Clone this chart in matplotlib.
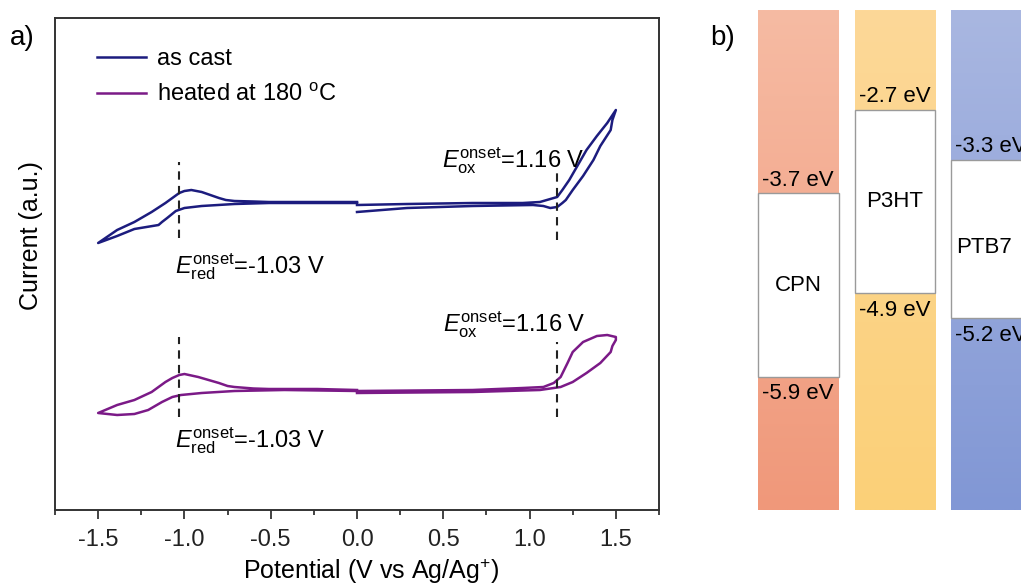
import matplotlib
matplotlib.use("Agg")
import matplotlib.pyplot as plt
import numpy as np
from matplotlib.patches import Rectangle
from matplotlib.colors import to_rgb

plt.rcParams["font.family"] = ["Liberation Sans", "DejaVu Sans"]
plt.rcParams["mathtext.fontset"] = "custom"
plt.rcParams["mathtext.rm"] = "Liberation Sans"
plt.rcParams["mathtext.it"] = "Liberation Sans:italic"

# ---- a) cyclic voltammetry (current in a.u.)
cast_neg_v = [0.00, -0.23, -0.51, -0.60, -0.71, -0.76, -0.80, -0.85, -0.90, -0.96, -1.00, -1.03, -1.07,
              -1.11, -1.19, -1.29, -1.39, -1.50,
              -1.39, -1.29, -1.22, -1.15, -1.13, -1.10, -1.05, -1.00, -0.90, -0.71, -0.51, -0.23, 0.00]
cast_neg_i = [3.01, 3.01, 3.01, 3.015, 3.02, 3.03, 3.05, 3.08, 3.11, 3.13, 3.12, 3.10, 3.05,
              3.00, 2.91, 2.81, 2.73, 2.60,
              2.67, 2.74, 2.76, 2.78, 2.81, 2.85, 2.92, 2.95, 2.97, 2.99, 3.00, 3.00, 3.00]
cast_pos_v = [0.00, 0.29, 0.67, 0.96, 1.06, 1.12, 1.16, 1.19, 1.23, 1.28, 1.33, 1.39, 1.45, 1.50,
              1.48, 1.47, 1.41, 1.37, 1.31, 1.25, 1.21, 1.19, 1.16, 1.12, 1.08, 1.02, 0.67, 0.29, 0.00]
cast_pos_i = [2.98, 2.99, 3.00, 3.00, 3.01, 3.04, 3.06, 3.13, 3.23, 3.38, 3.53, 3.67, 3.80, 3.93,
              3.83, 3.73, 3.57, 3.43, 3.27, 3.13, 3.03, 3.00, 2.96, 2.95, 2.97, 2.98, 2.97, 2.95, 2.91]

heat_neg_v = [0.00, -0.23, -0.51, -0.60, -0.71, -0.75, -0.80, -0.86, -0.92, -1.00, -1.03, -1.07,
              -1.11, -1.19, -1.29, -1.39, -1.50,
              -1.39, -1.29, -1.21, -1.13, -1.07, -1.02, -0.90, -0.71, -0.42, 0.00]
heat_neg_i = [1.13, 1.14, 1.14, 1.145, 1.16, 1.17, 1.20, 1.23, 1.26, 1.29, 1.28, 1.25,
              1.21, 1.11, 1.03, 0.98, 0.90,
              0.88, 0.89, 0.93, 1.01, 1.06, 1.08, 1.10, 1.12, 1.13, 1.12]
heat_pos_v = [0.00, 0.67, 0.96, 1.08, 1.14, 1.18, 1.22, 1.25, 1.31, 1.39, 1.45, 1.50, 1.50,
              1.48, 1.47, 1.41, 1.33, 1.25, 1.18, 1.06, 0.67, 0.00]
heat_pos_i = [1.12, 1.13, 1.15, 1.16, 1.20, 1.26, 1.40, 1.51, 1.61, 1.67, 1.68, 1.66, 1.63,
              1.57, 1.51, 1.40, 1.30, 1.21, 1.16, 1.13, 1.11, 1.10]

onset_red = -1.03
onset_ox = 1.16
cast_dash_red = (2.65, 3.41)
cast_dash_ox = (2.63, 3.35)
heat_dash_red = (0.86, 1.66)
heat_dash_ox = (0.86, 1.61)

xticks = [-1.5, -1.0, -0.5, 0.0, 0.5, 1.0, 1.5]

# ---- b) energy levels (eV)
materials = ["CPN", "P3HT", "PTB7"]
lumo = [-3.7, -2.7, -3.3]
homo = [-5.9, -4.9, -5.2]
top_colors = ["#f6bba3", "#fdd898", "#a9b7e1"]
bottom_colors = ["#f0987a", "#fbd078", "#8197d5"]

col_cast = "#1c1c7e"
col_heat = "#7b1a87"

fig = plt.figure(figsize=(10.21, 5.87), dpi=100)

# panel a
ax = fig.add_axes([55 / 1021, 77 / 587, 604 / 1021, 492 / 587])
ax.plot(cast_neg_v, cast_neg_i, color=col_cast, lw=1.8, label="as cast")
ax.plot(cast_pos_v, cast_pos_i, color=col_cast, lw=1.8)
ax.plot(heat_neg_v, heat_neg_i, color=col_heat, lw=1.8, label="heated at 180 $^{\\mathrm{o}}$C")
ax.plot(heat_pos_v, heat_pos_i, color=col_heat, lw=1.8)

for x, (y0, y1) in [(onset_red, cast_dash_red), (onset_ox, cast_dash_ox),
                    (onset_red, heat_dash_red), (onset_ox, heat_dash_ox)]:
    ax.plot([x, x], [y0, y1], color="#222222", lw=1.5, ls=(0, (4, 3)))

ox_txt = "$\\mathit{E}_{\\mathrm{ox}}^{\\mathrm{onset}}$=%.2f V" % onset_ox
red_txt = "$\\mathit{E}_{\\mathrm{red}}^{\\mathrm{onset}}$=%.2f V" % onset_red
ax.text(0.49, 3.36, ox_txt, fontsize=17, va="baseline")
ax.text(-1.055, 2.30, red_txt, fontsize=17, va="baseline")
ax.text(0.50, 1.71, ox_txt, fontsize=17, va="baseline")
ax.text(-1.055, 0.55, red_txt, fontsize=17, va="baseline")

ax.set_xlim(-1.75, 1.75)
ax.set_ylim(-0.07, 4.85)
ax.set_xticks(xticks)
ax.set_xticks(np.arange(-1.75, 1.76, 0.25), minor=True)
ax.set_xticklabels(["%.1f" % v for v in xticks])
ax.set_yticks([])
ax.tick_params(axis="x", which="major", direction="out", length=6.5, width=1.2,
               labelsize=17, pad=7.5, colors="#222222")
ax.tick_params(axis="x", which="minor", direction="out", length=3.8, width=1.2, colors="#222222")
for s in ax.spines.values():
    s.set_linewidth(1.4)
    s.set_color("#333333")

ax.legend(loc="upper left", bbox_to_anchor=(0.069, 0.939), frameon=False, fontsize=17,
          handlelength=2.1, handletextpad=0.45, labelspacing=0.58, borderpad=0, borderaxespad=0)

fig.text(371 / 1021, 1 - 579 / 587, "Potential (V vs Ag/Ag$^{+}$)", fontsize=18,
         ha="center", va="baseline")
fig.text(31 / 1021, 1 - 236 / 587, "Current (a.u.)", fontsize=18, rotation=90,
         ha="center", va="center")
fig.text(10 / 1021, 1 - 45 / 587, "a)", fontsize=20, va="baseline")
fig.text(710 / 1021, 1 - 45 / 587, "b)", fontsize=20, va="baseline")

# panel b
axb = fig.add_axes([740 / 1021, 77 / 587, 281 / 1021, 500 / 587])
e_top, e_bot = -1.5, -7.5
width, pitch = 1.0, 1.2
t = np.linspace(0, 1, 256)[:, None, None]
for i, name in enumerate(materials):
    x0 = i * pitch
    c0 = np.array(to_rgb(top_colors[i]))[None, None, :]
    c1 = np.array(to_rgb(bottom_colors[i]))[None, None, :]
    grad = c0 * (1 - t) + c1 * t
    axb.imshow(grad, extent=[x0, x0 + width, e_bot, e_top], origin="upper",
               aspect="auto", interpolation="bilinear")
    axb.add_patch(Rectangle((x0, homo[i]), width, lumo[i] - homo[i], facecolor="white",
                            edgecolor="#9a9a9a", lw=1.0))
    axb.text(x0 + 0.05, lumo[i] + 0.09, "%.1f eV" % lumo[i], fontsize=16, va="baseline")
    axb.text(x0 + 0.05, homo[i] - 0.08, "%.1f eV" % homo[i], fontsize=16, va="top")
    mid = (lumo[i] + homo[i]) / 2
    if i < 2:
        axb.text(x0 + width / 2, mid, name, fontsize=16, ha="center", va="center")
    else:
        axb.text(x0 + 0.06, mid - 0.1, name, fontsize=16, ha="left", va="center")

axb.set_xlim(-0.2236, 3.267)
axb.set_ylim(e_bot, e_top)
axb.axis("off")

fig.savefig("out.png", dpi=100)
